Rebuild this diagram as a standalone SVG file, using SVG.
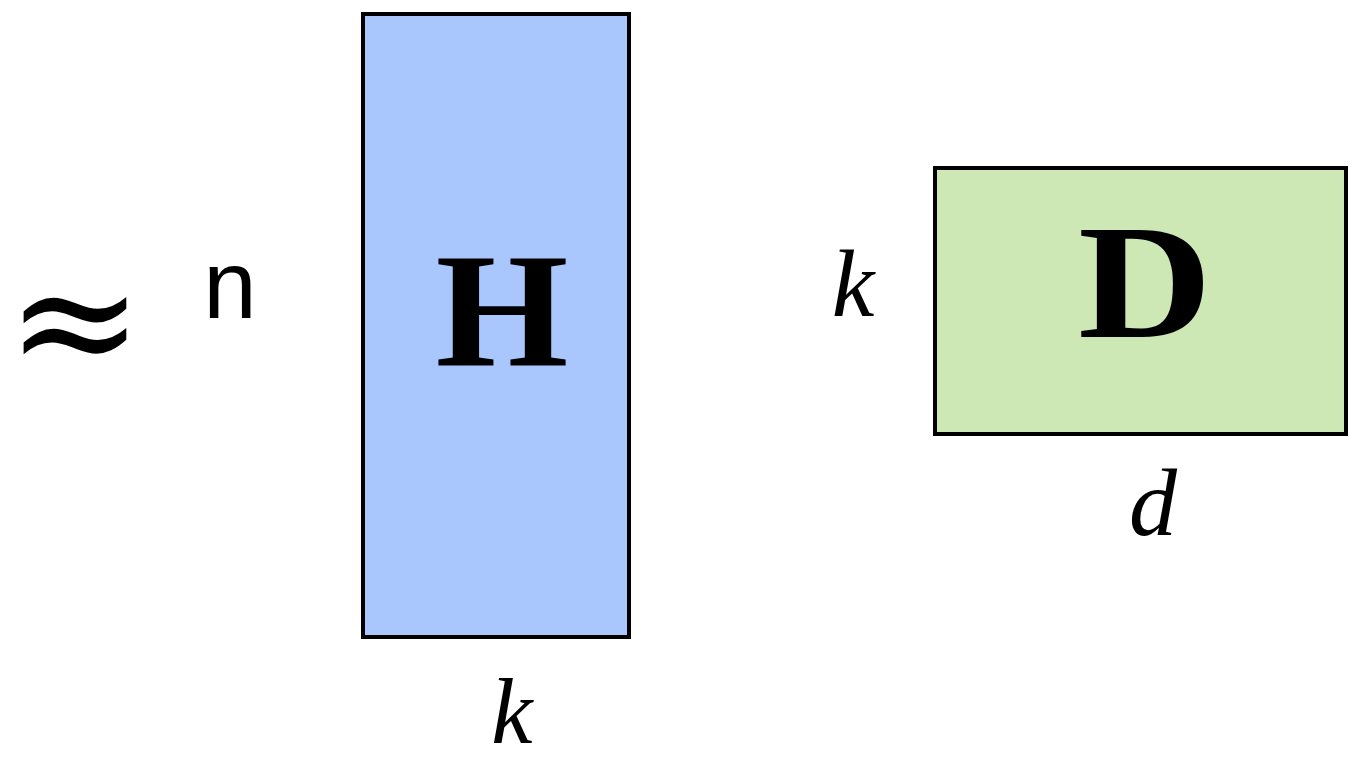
<svg xmlns="http://www.w3.org/2000/svg" width="1355" height="764" viewBox="0 0 1355 764">
<style>
.box{stroke:#000;stroke-width:4}
.big{font-family:"Liberation Serif",serif;font-weight:bold;font-size:163px;text-anchor:middle;fill:#000}
.it{font-family:"Liberation Serif",serif;font-style:italic;font-size:96px;text-anchor:middle;fill:#000}
</style>
<rect width="1355" height="764" fill="#fff"/>
<g id="approx"><text x="75" y="377" font-family="DejaVu Serif, serif" font-size="164" text-anchor="middle">≈</text></g>
<g id="label-n"><text x="230" y="318" font-family="Liberation Sans, sans-serif" font-size="96" text-anchor="middle">n</text></g>
<g id="H">
<rect class="box" x="363" y="14" width="266" height="623" fill="#a9c7fc"/>
<text class="big" x="502" y="366" textLength="133" lengthAdjust="spacingAndGlyphs">H</text>
</g>
<g id="label-k-bottom"><text class="it" x="512" y="743" style="font-size:93px">k</text></g>
<g id="label-k-left"><text class="it" x="853" y="316">k</text></g>
<g id="D">
<rect class="box" x="935" y="168" width="411" height="266" fill="#cde8b5"/>
<text class="big" x="1145" y="337" textLength="134" lengthAdjust="spacingAndGlyphs">D</text>
</g>
<g id="label-d"><text class="it" x="1153" y="535">d</text></g>
<g id="connectors"></g>
</svg>
